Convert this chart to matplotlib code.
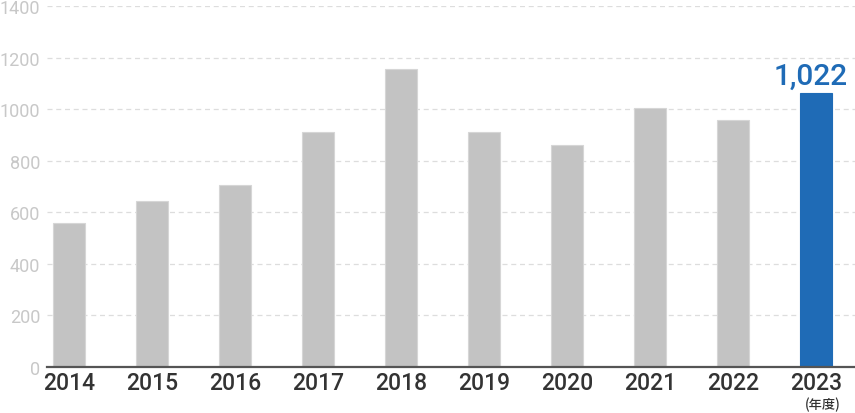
import matplotlib
matplotlib.use("Agg")
import matplotlib.pyplot as plt

years = ["2014", "2015", "2016", "2017", "2018", "2019", "2020", "2021", "2022", "2023"]
values = [559, 643, 706, 910, 1155, 910, 862, 1003, 956, 1062]
highlight_label = "1,022"
y_ticks = [0, 200, 400, 600, 800, 1000, 1200, 1400]
unit_label = "(年度)"

plt.rcParams['font.family'] = ['Roboto', 'Noto Sans CJK JP', 'DejaVu Sans']

fig = plt.figure(figsize=(8.55, 4.14), dpi=100)
ax = fig.add_axes([47/855, 46/414, 1 - 47/855, (368 - 7)/414])

x = list(range(len(years)))
colors = ["#c3c3c3"] * (len(years) - 1) + ["#1f6bb6"]
edges = ["#d6d6d6"] * (len(years) - 1) + ["#1f6bb6"]
ax.bar(x, values, width=0.385, color=colors, edgecolor=edges, linewidth=0.8, zorder=3)

ax.set_xlim(-0.265, 9.47)
ax.set_ylim(0, 1400)
ax.set_yticks(y_ticks)
ax.set_yticklabels([str(v) for v in y_ticks])
ax.set_xticks(x)
ax.set_xticklabels(years)

for v in y_ticks[1:]:
    ax.axhline(v, color="#dddddd", linestyle=(0, (4, 3)), linewidth=0.9, zorder=1)

for s in ["top", "right", "left"]:
    ax.spines[s].set_visible(False)
ax.spines["bottom"].set_color("#555555")
ax.spines["bottom"].set_linewidth(1.6)
ax.spines["bottom"].set_zorder(4)

ax.tick_params(axis="y", length=0, pad=5, labelsize=13, labelcolor="#c8c8c8")
ax.tick_params(axis="x", length=0, pad=3, labelsize=16.5, labelcolor="#333333")
for lab in ax.get_xticklabels():
    lab.set_fontweight("medium")

ax.annotate(highlight_label, xy=(x[-1], values[-1]), xytext=(-4, 7),
            textcoords="offset points", ha="center", va="baseline",
            fontsize=21.5, fontweight="medium", color="#1f6bb6")

fig.text(823/855, 1 - 405/414, unit_label, ha="center", va="center",
         fontsize=9.5, fontweight="medium", color="#333333",
         family=['Noto Sans CJK JP', 'DejaVu Sans'])

fig.savefig("out.png", dpi=100)
